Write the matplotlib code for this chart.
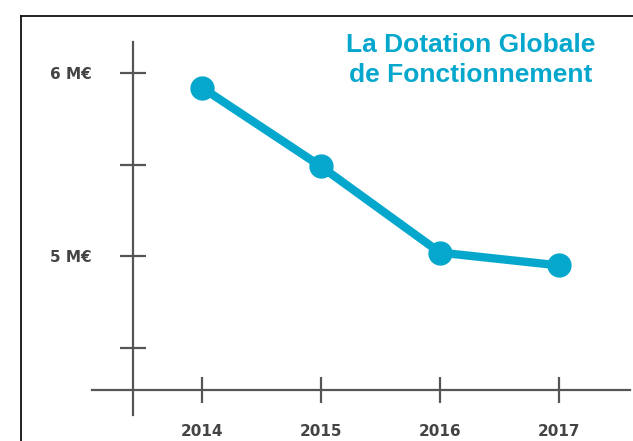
import matplotlib

matplotlib.use("Agg")
import matplotlib.pyplot as plt
from matplotlib.lines import Line2D

# Data (millions of euros)
years = [2014, 2015, 2016, 2017]
dgf = [5.92, 5.49, 5.02, 4.95]
ytick_values = [4.5, 5.0, 5.5, 6.0]
ytick_labels = ["", "5 M€", "", "6 M€"]
title = "La Dotation Globale\nde Fonctionnement"

BLUE = "#05a8cc"
GREY = "#555555"

fig = plt.figure(figsize=(6.33, 4.41), dpi=100)
ax = fig.add_axes([0, 0, 1, 1])
ax.set_xlim(2012.303, 2017.622)
ax.set_ylim(3.992, 6.398)

ax.plot(years, dgf, color=BLUE, lw=6, marker="o", ms=16.5,
        solid_capstyle="round", zorder=5)

# axes crossing like a hand-drawn cross, not at the frame edges
for side in ("top", "right"):
    ax.spines[side].set_visible(False)
ax.spines["left"].set_position(("data", 2013.42))
ax.spines["left"].set_bounds(4.134, 6.169)
ax.spines["bottom"].set_position(("data", 4.27))
ax.spines["bottom"].set_bounds(2013.08, 2017.6)
for side in ("left", "bottom"):
    ax.spines[side].set_color(GREY)
    ax.spines[side].set_linewidth(1.6)

ax.set_xticks(years)
ax.set_xticklabels([str(y) for y in years])
ax.set_yticks(ytick_values)
ax.set_yticklabels(ytick_labels)
ax.tick_params(axis="both", direction="inout", length=19, width=1.6,
               color=GREY, labelcolor="#444444")
ax.tick_params(axis="y", pad=20)
ax.tick_params(axis="x", pad=15)
for lab in ax.get_xticklabels() + ax.get_yticklabels():
    lab.set_fontfamily("DejaVu Sans")
    lab.set_fontweight("bold")
    lab.set_fontsize(11)

# thin frame on the left and top
fig.add_artist(Line2D([21 / 633, 21 / 633], [0, 1 - 16 / 441],
                      transform=fig.transFigure, color="#111111", lw=1.3))
fig.add_artist(Line2D([21 / 633, 1], [1 - 16 / 441, 1 - 16 / 441],
                      transform=fig.transFigure, color="#111111", lw=1.3))

fig.text(471 / 633, 1 - 60 / 441, title, ha="center", va="center",
         color=BLUE, fontsize=19, fontweight="bold",
         family="Liberation Sans", linespacing=1.3)

fig.savefig("out.png", dpi=100)
